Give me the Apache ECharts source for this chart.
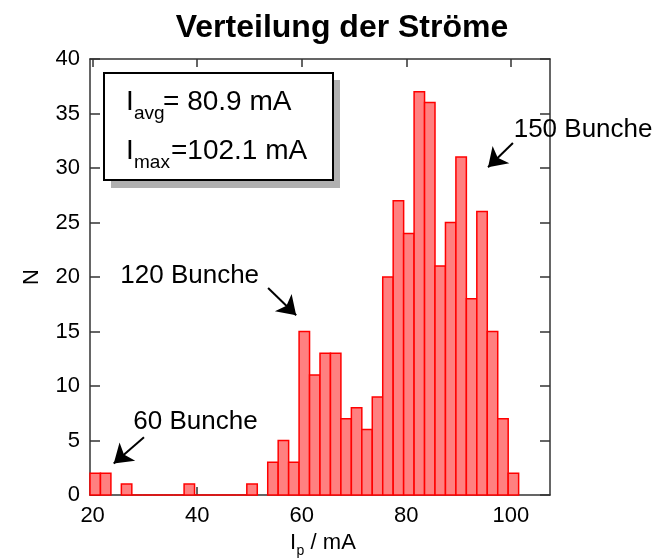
<!DOCTYPE html>
<html>
<head>
<meta charset="utf-8">
<script src="https://cdn.jsdelivr.net/npm/echarts@6/dist/echarts.min.js"></script>
<style>
  html, body { margin: 0; padding: 0; background: #ffffff; }
  #chart { width: 657px; height: 559px; }
</style>
</head>
<body>
<div id="chart"></div>
<script>
// Histogram of bunch currents: bin centres (mA) and counts per 2 mA bin.
// null = empty bin with no outline drawn, 0 = empty bin drawn as a flat line.
const binCenters = [20.5, 22.5, 24.5, 26.5, 28.5, 30.5, 32.5, 34.5, 36.5, 38.5,
                    40.5, 42.5, 44.5, 46.5, 48.5, 50.5, 52.5, 54.5, 56.5, 58.5,
                    60.5, 62.5, 64.5, 66.5, 68.5, 70.5, 72.5, 74.5, 76.5, 78.5,
                    80.5, 82.5, 84.5, 86.5, 88.5, 90.5, 92.5, 94.5, 96.5, 98.5,
                    100.5];
const counts = [2, 2, null, 1, 0, 0, 0, 0, 0, 1,
                0, 0, 0, 0, 0, 1, null, 3, 5, 3,
                15, 11, 13, 13, 7, 8, 6, 9, 20, 27,
                24, 37, 36, 21, 25, 31, 18, 26, 15, 7,
                2];
const binWidth = 2;

const xTicks = [20, 40, 60, 80, 100];
const yTicks = [0, 5, 10, 15, 20, 25, 30, 35, 40];

// Annotation labels and their arrows (data coordinates)
const noteTexts = ['60 Bunche', '120 Bunche', '150 Bunche'];
const noteAnchors = [[27.7, 6.7], [25.2, 20.1], [100.46, 33.5]];
const arrowTails = [[29.83, 5.29], [53.57, 18.99], [100.41, 32.29]];
const arrowHeads = [[24.04, 2.90], [58.94, 16.49], [95.65, 30.07]];

const FONT = '"Liberation Sans", Arial, Helvetica, sans-serif';
const AXIS_COLOR = '#333333';

const chart = echarts.init(document.getElementById('chart'), null, { renderer: 'canvas' });

const histData = [];
binCenters.forEach((x, i) => { if (counts[i] !== null) histData.push([x, counts[i]]); });

function axisCommon(extra) {
  return Object.assign({
    type: 'value',
    axisLine: { show: true, onZero: false, lineStyle: { color: AXIS_COLOR, width: 1.5 } },
    splitLine: { show: false }
  }, extra);
}

function txt(x, y, text, size) {
  return {
    type: 'text', x: x, y: y, z: 12,
    style: { text: text, font: size + 'px ' + FONT, fill: '#000', verticalAlign: 'middle', align: 'left' }
  };
}

const option = {
  animation: false,
  backgroundColor: '#ffffff',
  title: {
    text: 'Verteilung der Ströme',
    left: 337, top: 7, textAlign: 'center',
    textStyle: { fontFamily: FONT, fontSize: 32, fontWeight: 'bold', color: '#000' }
  },
  grid: { left: 90, top: 59, width: 460, height: 436 },
  xAxis: [
    axisCommon({
      position: 'bottom', min: 19.5, max: 107.5,
      axisTick: { show: true, inside: true, length: 8, customValues: xTicks, lineStyle: { color: AXIS_COLOR, width: 1.5 } },
      axisLabel: { customValues: xTicks, fontFamily: FONT, fontSize: 22, color: '#000', margin: 10 }
    }),
    axisCommon({
      position: 'top', min: 19.5, max: 107.5,
      axisTick: { show: true, inside: true, length: 8, customValues: xTicks, lineStyle: { color: AXIS_COLOR, width: 1.5 } },
      axisLabel: { show: false }
    })
  ],
  yAxis: [
    axisCommon({
      position: 'left', min: 0, max: 40, interval: 5,
      axisTick: { show: true, inside: true, length: 10, lineStyle: { color: AXIS_COLOR, width: 1.5 } },
      axisLabel: { fontFamily: FONT, fontSize: 22, color: '#000', margin: 10,
                   formatter: v => (yTicks.indexOf(v) >= 0 ? String(v) : '') },
      name: 'N', nameLocation: 'middle', nameGap: 47,
      nameTextStyle: { fontFamily: FONT, fontSize: 22, color: '#000' }
    }),
    axisCommon({
      position: 'right', min: 0, max: 40, interval: 5,
      axisTick: { show: true, inside: true, length: 10, lineStyle: { color: AXIS_COLOR, width: 1.5 } },
      axisLabel: { show: false }
    })
  ],
  series: [{
    type: 'custom',
    xAxisIndex: 0, yAxisIndex: 0,
    data: histData,
    renderItem: function (params, api) {
      const xc = api.value(0);
      const n = api.value(1);
      const p0 = api.coord([xc - binWidth / 2, 0]);
      const p1 = api.coord([xc + binWidth / 2, n]);
      if (n === 0) {
        return {
          type: 'line',
          shape: { x1: p0[0], y1: p0[1], x2: p1[0], y2: p0[1] },
          style: { stroke: '#ff0000', lineWidth: 1.5 }
        };
      }
      return {
        type: 'rect',
        shape: { x: p0[0], y: p1[1], width: p1[0] - p0[0], height: p0[1] - p1[1] },
        style: { fill: '#ff8080', stroke: '#ff0000', lineWidth: 1.5 }
      };
    },
    markLine: {
      silent: true,
      symbol: ['none', 'arrow'],
      symbolSize: 18,
      lineStyle: { color: '#000', width: 2, type: 'solid' },
      itemStyle: { color: '#000' },
      label: { show: false },
      data: arrowTails.map((t, i) => [{ coord: t }, { coord: arrowHeads[i] }])
    },
    markPoint: {
      silent: true,
      symbol: 'circle',
      symbolSize: 1,
      itemStyle: { color: 'rgba(0,0,0,0)' },
      label: {
        show: true, position: 'right', distance: 0,
        fontFamily: FONT, fontSize: 26, color: '#000'
      },
      data: noteTexts.map((t, i) => ({ coord: noteAnchors[i], value: t, label: { formatter: t } }))
    }
  }],
  graphic: [
    // statistics box with drop shadow
    { type: 'rect', shape: { x: 111, y: 80, width: 229, height: 108 }, style: { fill: '#b0b0b0' }, z: 10 },
    { type: 'rect', shape: { x: 104, y: 73, width: 229, height: 107 }, style: { fill: '#ffffff', stroke: '#000', lineWidth: 2 }, z: 11 },
    txt(126, 102.5, 'I', 28),
    txt(134, 114, 'avg', 19),
    txt(163, 102.5, '= 80.9 mA', 28),
    txt(126, 151.5, 'I', 28),
    txt(134, 163, 'max', 19),
    txt(171, 151.5, '=102.1 mA', 28),
    // x-axis title with subscript
    txt(290, 543, 'I', 22),
    txt(296.5, 551, 'p', 14),
    txt(304.5, 543, ' / mA', 22)
  ]
};

chart.setOption(option);
</script>
</body>
</html>
